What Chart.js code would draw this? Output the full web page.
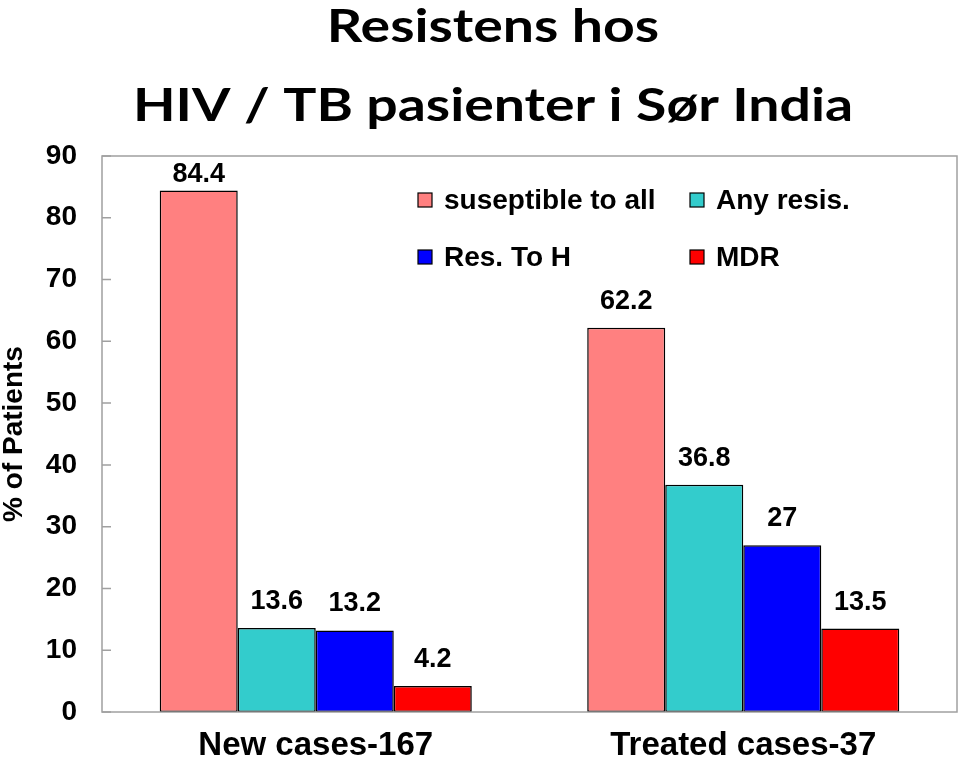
<!DOCTYPE html>
<html>
<head>
<meta charset="utf-8">
<script src="https://cdn.jsdelivr.net/npm/chart.js@4/dist/chart.umd.min.js"></script>
<style>
html,body{margin:0;padding:0;background:#fff;}
#wrap{width:960px;height:762px;position:relative;}
</style>
</head>
<body>
<div id="wrap"><canvas id="c" width="960" height="762"></canvas></div>
<script>
const categories = ["New cases-167", "Treated cases-37"];
const seriesNames = ["suseptible to all", "Any resis.", "Res. To H", "MDR"];
const susceptible = [84.4, 62.2];
const anyResistance = [13.6, 36.8];
const resToH = [13.2, 27];
const mdr = [4.2, 13.5];
const yTicks = [0, 10, 20, 30, 40, 50, 60, 70, 80, 90];
const titleLines = ["Resistens hos", "HIV / TB pasienter i Sør India"];
const yTitle = "% of Patients";

const colors = ["#FF8080", "#33CCCC", "#0000FF", "#FF0000"];
const seriesValues = [susceptible, anyResistance, resToH, mdr];

const stretchedTitle = {
  id: 'stretchedTitle',
  afterDraw(chart) {
    const {ctx} = chart;
    const cx = 493;
    const ys = [42, 121];
    ctx.save();
    ctx.fillStyle = '#000';
    ctx.font = 'bold 45px Lato, "Open Sans", sans-serif';
    ctx.textAlign = 'center';
    ctx.textBaseline = 'alphabetic';
    titleLines.forEach((t, i) => {
      ctx.save();
      ctx.translate(cx, ys[i]);
      ctx.scale(1.23, 1);
      ctx.fillText(t, 0, 0);
      ctx.restore();
    });
    ctx.restore();
  }
};

const frameAndTicks = {
  id: 'frameAndTicks',
  afterDraw(chart) {
    const {ctx, chartArea: a, scales} = chart;
    ctx.save();
    ctx.strokeStyle = '#a0a0a0';
    ctx.lineWidth = 1.5;
    ctx.strokeRect(a.left, a.top, a.right - a.left, a.bottom - a.top);
    ctx.beginPath();
    yTicks.forEach(v => {
      const y = scales.y.getPixelForValue(v);
      ctx.moveTo(a.left, y);
      ctx.lineTo(a.left + 9, y);
    });
    ctx.stroke();
    ctx.restore();
  }
};

const valueLabels = {
  id: 'valueLabels',
  afterDatasetsDraw(chart) {
    const {ctx, chartArea: a} = chart;
    ctx.save();
    ctx.fillStyle = '#000';
    ctx.font = 'bold 27px "Liberation Sans", Arial, sans-serif';
    ctx.textAlign = 'center';
    ctx.textBaseline = 'alphabetic';
    chart.data.datasets.forEach((ds, i) => {
      const meta = chart.getDatasetMeta(i);
      meta.data.forEach((bar, j) => {
        const base = Math.max(bar.y - 19, a.top + 26);
        ctx.fillText(String(ds.data[j]), bar.x, base);
      });
    });
    ctx.restore();
  }
};

const innerLegend = {
  id: 'innerLegend',
  afterDraw(chart) {
    const {ctx, chartArea: a} = chart;
    const cols = [a.left + 316, a.left + 588];
    const rows = [a.top + 44, a.top + 101];
    ctx.save();
    ctx.font = 'bold 28px "Liberation Sans", Arial, sans-serif';
    ctx.textBaseline = 'middle';
    ctx.textAlign = 'left';
    chart.data.datasets.forEach((ds, i) => {
      const x = cols[i % 2];
      const y = rows[Math.floor(i / 2)];
      ctx.fillStyle = ds.backgroundColor;
      ctx.fillRect(x, y - 7, 14, 14);
      ctx.strokeStyle = '#000';
      ctx.lineWidth = 1.2;
      ctx.strokeRect(x, y - 7, 14, 14);
      ctx.fillStyle = '#000';
      ctx.fillText(ds.label, x + 26, y + 1);
    });
    ctx.restore();
  }
};

new Chart(document.getElementById('c'), {
  type: 'bar',
  data: {
    labels: categories,
    datasets: seriesNames.map((name, i) => ({
      label: name,
      data: seriesValues[i],
      backgroundColor: colors[i],
      borderColor: '#000',
      borderWidth: 1.5,
      borderSkipped: false,
      categoryPercentage: 0.73,
      barPercentage: 1.0
    }))
  },
  options: {
    responsive: false,
    animation: false,
    devicePixelRatio: 1,
    layout: { padding: { left: 0, right: 3, top: 156, bottom: 0 } },
    plugins: {
      legend: { display: false },
      tooltip: { enabled: false },
      title: { display: false }
    },
    scales: {
      x: {
        grid: { display: false, drawTicks: false },
        border: { display: false },
        ticks: {
          color: '#000',
          padding: 14,
          font: { family: '"Liberation Sans", Arial, sans-serif', weight: 'bold', size: 33 }
        },
        afterFit(scale) { scale.height = 50; }
      },
      y: {
        min: 0,
        max: 90,
        afterBuildTicks(scale) { scale.ticks = yTicks.map(v => ({ value: v })); },
        grid: { display: false, drawTicks: false },
        border: { display: false },
        ticks: {
          color: '#000',
          padding: 25,
          font: { family: '"Liberation Sans", Arial, sans-serif', weight: 'bold', size: 28 }
        },
        title: {
          display: true,
          text: yTitle,
          color: '#000',
          padding: 0,
          font: { family: '"Liberation Sans", Arial, sans-serif', weight: 'bold', size: 28, lineHeight: 1.0 }
        },
        afterFit(scale) { scale.width = 102; }
      }
    }
  },
  plugins: [frameAndTicks, valueLabels, innerLegend, stretchedTitle]
});
</script>
</body>
</html>
